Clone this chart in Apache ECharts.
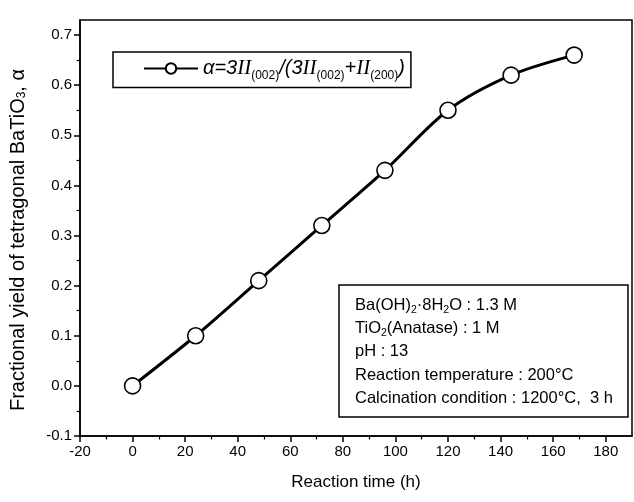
<!DOCTYPE html>
<html>
<head>
<meta charset="utf-8">
<script src="https://cdn.jsdelivr.net/npm/echarts@6/dist/echarts.min.js"></script>
<style>
html,body{margin:0;padding:0;background:#fff;}
#c{width:634px;height:502px;}
</style>
</head>
<body>
<div id="c"></div>
<script>
// ---- data ----
var reactionTime = [0, 24, 48, 72, 96, 120, 144, 168];
var alphaValues = [0.0, 0.10, 0.21, 0.32, 0.43, 0.55, 0.62, 0.66];
var xTickLabels = [-20, 0, 20, 40, 60, 80, 100, 120, 140, 160, 180];
var yTickLabels = [-0.1, 0.0, 0.1, 0.2, 0.3, 0.4, 0.5, 0.6, 0.7];
var seriesName = 'alpha';
var conditionLines = [
  '{n|Ba(OH)}{sub|2}{n|·8H}{sub|2}{n|O : 1.3 M}',
  '{n|TiO}{sub|2}{n|(Anatase) : 1 M}',
  '{n|pH : 13}',
  '{n|Reaction temperature : 200°C}',
  '{n|Calcination condition : 1200°C,  3 h}'
];

var points = reactionTime.map(function (t, i) { return [t, alphaValues[i]]; });
var FONT = '"Liberation Sans", Arial, sans-serif';

var chart = echarts.init(document.getElementById('c'));

var subRich = {
  n: { fontFamily: FONT, fontSize: 16.5, color: '#000', lineHeight: 20, verticalAlign: 'middle' },
  sub: { fontFamily: FONT, fontSize: 10.5, color: '#000', lineHeight: 8, verticalAlign: 'bottom' }
};

var graphicTexts = conditionLines.map(function (line, i) {
  return {
    type: 'text',
    left: 355,
    top: 297 + i * 23.2,
    z: 11,
    style: {
      text: line,
      font: '16.5px ' + FONT,
      fill: '#000',
      rich: subRich
    }
  };
});

var option = {
  animation: false,
  backgroundColor: '#fff',
  grid: {
    left: 80, right: 2, top: 20, bottom: 66,
    show: true, borderColor: '#000', borderWidth: 1.5, backgroundColor: 'transparent'
  },
  legend: {
    show: true,
    left: 113, top: 52,
    orient: 'horizontal',
    borderColor: '#000', borderWidth: 1.5,
    padding: [6, 6, 6, 30],
    itemWidth: 54, itemHeight: 13,
    itemGap: 4,
    formatter: function () {
      return '{a|α=3}{i|II}{s|(002)}{a|/(3}{i|II}{s|(002)}{a|+}{i|II}{s|(200)}{a|)}';
    },
    textStyle: {
      color: '#000',
      rich: {
        a: { fontFamily: FONT, fontStyle: 'italic', fontSize: 20, color: '#000', lineHeight: 26, verticalAlign: 'middle' },
        i: { fontFamily: '"Liberation Serif", "Times New Roman", serif', fontStyle: 'italic', fontSize: 21, color: '#000', lineHeight: 26, verticalAlign: 'middle' },
        s: { fontFamily: FONT, fontSize: 12, color: '#000', lineHeight: 11, verticalAlign: 'bottom' }
      }
    },
    data: [seriesName]
  },
  xAxis: {
    type: 'value',
    min: -20, max: 190, interval: 20,
    name: 'Reaction time (h)',
    nameLocation: 'middle',
    nameGap: 38,
    nameTextStyle: { fontFamily: FONT, fontSize: 17, color: '#000' },
    axisLine: { show: true, onZero: false, lineStyle: { color: '#000', width: 1.5 } },
    axisTick: { show: true, inside: false, length: 6, lineStyle: { color: '#000', width: 1.5 }, customValues: xTickLabels },
    minorTick: { show: true, splitNumber: 2, length: 3.5, lineStyle: { color: '#000', width: 1.2 } },
    axisLabel: { fontFamily: FONT, fontSize: 15, color: '#000', margin: 8, customValues: xTickLabels },
    splitLine: { show: false }
  },
  yAxis: {
    type: 'value',
    min: -0.1, max: 0.73, interval: 0.1,
    name: 'Fractional yield of tetragonal BaTiO{sub|3}, α',
    nameLocation: 'middle',
    nameGap: 52,
    nameRotate: 90,
    nameTextStyle: {
      fontFamily: FONT, fontSize: 20, color: '#000',
      padding: [0, 24, 0, 0],
      rich: {
        sub: { fontFamily: FONT, fontSize: 12, color: '#000', verticalAlign: 'bottom', lineHeight: 10 }
      }
    },
    axisLine: { show: true, onZero: false, lineStyle: { color: '#000', width: 1.5 } },
    axisTick: { show: true, inside: false, length: 6, lineStyle: { color: '#000', width: 1.5 }, customValues: yTickLabels },
    minorTick: { show: true, splitNumber: 2, length: 3.5, lineStyle: { color: '#000', width: 1.2 } },
    axisLabel: {
      fontFamily: FONT, fontSize: 15, color: '#000', margin: 8,
      customValues: yTickLabels,
      formatter: function (v) { return (Math.round(v * 10) / 10).toFixed(1); }
    },
    splitLine: { show: false }
  },
  series: [{
    name: seriesName,
    type: 'line',
    data: points,
    smooth: 0.3,
    symbol: 'circle',
    symbolSize: 16,
    showSymbol: true,
    lineStyle: { color: '#000', width: 3 },
    itemStyle: { color: '#fff', borderColor: '#000', borderWidth: 1.6 },
    z: 3
  }],
  graphic: [{
    type: 'rect',
    shape: { x: 339, y: 285, width: 289, height: 132 },
    style: { fill: '#fff', stroke: '#000', lineWidth: 1.5 },
    z: 10
  }].concat(graphicTexts)
};

chart.setOption(option);
</script>
</body>
</html>
